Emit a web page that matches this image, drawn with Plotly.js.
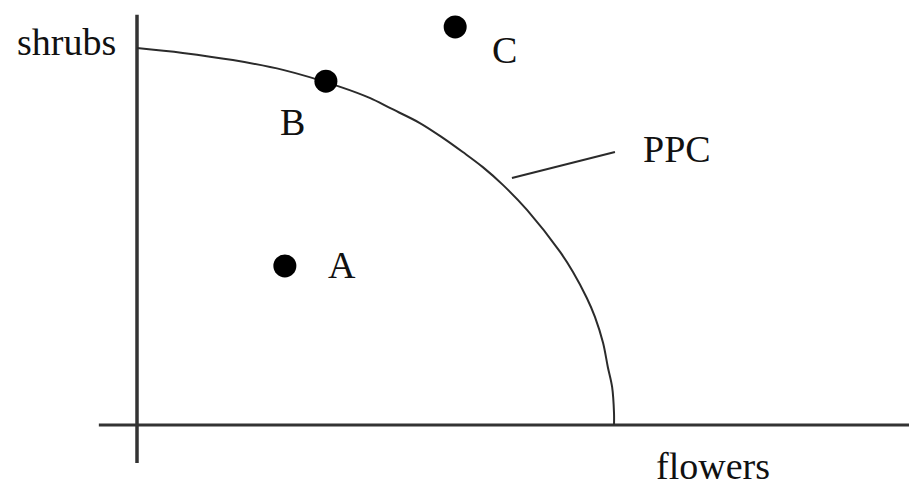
<!DOCTYPE html>
<html>
<head>
<meta charset="utf-8">
<script src="https://cdn.plot.ly/plotly-3.0.1.min.js"></script>
<style>html,body{margin:0;padding:0;background:#fff;}#chart{width:909px;height:488px;}</style>
</head>
<body>
<div id="chart"></div>
<script>
// PPC curve (flowers on x, shrubs on y)
var ppcFlowers = [0, 0.96, 2.01, 3.06, 4.26, 4.89, 5.30, 5.93, 6.42, 6.83, 7.25, 7.67, 8.18, 8.87, 9.14, 9.43, 9.60, 9.77, 9.87, 9.96, 10.0, 10.0];
var ppcShrubs  = [10, 9.87, 9.68, 9.42, 8.97, 8.67, 8.41, 8.01, 7.61, 7.24, 6.84, 6.37, 5.70, 4.59, 4.06, 3.37, 2.87, 2.18, 1.54, 1.01, 0.32, 0];

// Points A, B, C
var pointNames   = ["A", "B", "C"];
var pointFlowers = [3.10, 3.96, 6.67];
var pointShrubs  = [4.22, 9.12, 10.56];

// Leader line for the PPC label
var leaderFlowers = [7.86, 10.02];
var leaderShrubs  = [6.55, 7.24];

// Axis titles
var xTitle = "flowers";
var yTitle = "shrubs";
var curveName = "PPC";

var ink = "#2b2b2b";
var textColor = "#111";
var fontFam = "Liberation Serif, Times New Roman, serif";
var fs = 38;

var traces = [
  {x: ppcFlowers, y: ppcShrubs, mode: "lines", line: {color: ink, width: 2, shape: "spline", smoothing: 1}, hoverinfo: "skip"},
  {x: leaderFlowers, y: leaderShrubs, mode: "lines", line: {color: ink, width: 2}, hoverinfo: "skip"},
  {x: pointFlowers, y: pointShrubs, mode: "markers", marker: {color: "#000", size: 23}, hoverinfo: "skip"}
];

// label offsets relative to the points (data units)
var labelDx = [1.19, -0.71, 1.03];
var labelDy = [0.02, -1.09, -0.61];

function label(x, y, t) {
  return {x: x, y: y, text: t, showarrow: false, xanchor: "center", yanchor: "middle", borderpad: 0,
    font: {family: fontFam, size: fs, color: textColor}};
}

var annotations = [];
for (var i = 0; i < pointNames.length; i++) {
  annotations.push(label(pointFlowers[i] + labelDx[i], pointShrubs[i] + labelDy[i], pointNames[i]));
}
annotations.push(label(leaderFlowers[1] + 1.30, leaderShrubs[1] + 0.08, curveName));
annotations.push(label(12.08, -1.09, xTitle));
annotations.push(label(-1.47, 10.16, yTitle));

var layout = {
  width: 909, height: 488,
  margin: {l: 0, r: 0, t: 0, b: 0, pad: 0},
  paper_bgcolor: "#fff", plot_bgcolor: "#fff",
  showlegend: false,
  xaxis: {range: [-2.872, 16.184], visible: false, fixedrange: true},
  yaxis: {range: [-1.671, 11.273], visible: false, fixedrange: true},
  shapes: [
    {type: "line", xref: "x", yref: "y", x0: 0, x1: 0, y0: -1.01, y1: 10.88, line: {color: "#333", width: 3.5}, layer: "below"},
    {type: "line", xref: "x", yref: "y", x0: -0.80, x1: 16.3, y0: 0, y1: 0, line: {color: "#333", width: 3}, layer: "below"}
  ],
  annotations: annotations
};

Plotly.newPlot("chart", traces, layout, {displayModeBar: false, staticPlot: true});
</script>
</body>
</html>
